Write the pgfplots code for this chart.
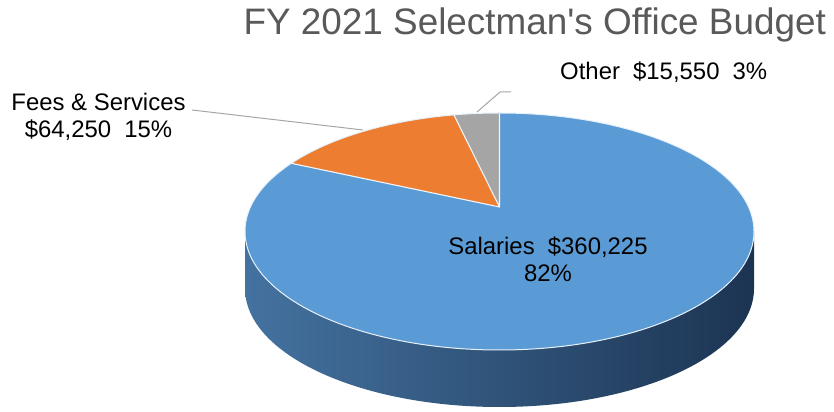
\documentclass[border=0pt]{standalone}
\usepackage{fontspec}
\setmainfont{Liberation Sans}
\usepackage{pgfplots}
\pgfplotsset{compat=1.18}
\usepackage{pgfplotstable}

\definecolor{salblue}{RGB}{91,155,213}
\definecolor{feeorange}{RGB}{237,125,49}
\definecolor{othgray}{RGB}{165,165,165}
\definecolor{sideL}{RGB}{68,114,160}
\definecolor{sideM}{RGB}{45,82,122}
\definecolor{sideR}{RGB}{28,52,82}
\definecolor{leadgray}{RGB}{166,166,166}
\definecolor{titlegray}{RGB}{89,89,89}

% budget items, in dollars
\pgfplotstableread{
item value
Salaries 360225
Fees 64250
Other 15550
}\budget

\pgfplotstablegetelem{0}{value}\of\budget \let\vSal\pgfplotsretval
\pgfplotstablegetelem{1}{value}\of\budget \let\vFee\pgfplotsretval
\pgfplotstablegetelem{2}{value}\of\budget \let\vOth\pgfplotsretval
% pie geometry (axis units = bp)
\def\cx{499.5}\def\cy{180.5}\def\rx{254.5}\def\ry{118.5}\def\dep{57}
\def\persp{0.1046}% perspective shift of the centre
\def\mapang#1{atand(sind(#1)+\persp, cosd(#1)) - atand(-\persp*cosd(#1), 1+\persp*sind(#1))}
\edef\phA{\fpeval{90-360*\vSal/(\vSal+\vFee+\vOth)}}
\edef\phB{\fpeval{90-360*(\vSal+\vFee)/(\vSal+\vFee+\vOth)}}
\edef\psA{\fpeval{round(\mapang{\phA}-360,3)}}
\edef\psB{\fpeval{round(\mapang{\phB}-360,3)}}
\edef\xA{\fpeval{round(\cx+\rx*cosd(\psA),3)}}
\edef\yA{\fpeval{round(\cy+\ry*sind(\psA),3)}}
\edef\xB{\fpeval{round(\cx+\rx*cosd(\psB),3)}}
\edef\yB{\fpeval{round(\cy+\ry*sind(\psB),3)}}
\edef\xT{\cx}\edef\yT{\fpeval{\cy+\ry}}
\edef\xP{\cx}\edef\yP{\fpeval{round(\cy+\ry*2*\persp/(1+\persp*\persp),3)}}
\edef\xL{\fpeval{\cx-\rx}}\edef\xR{\fpeval{\cx+\rx}}
\edef\yBot{\fpeval{\cy-\dep}}

\begin{document}
\begin{tikzpicture}
\begin{axis}[
    width=834bp, height=412bp, scale only axis,
    xmin=0, xmax=834, ymin=0, ymax=412,
    hide axis, clip=false,
]
% side
\shade[left color=sideL, middle color=sideM, right color=sideR]
  (axis cs:\xL,\cy) arc[start angle=180, end angle=360, x radius=\rx bp, y radius=\ry bp]
  -- (axis cs:\xR,\yBot) arc[start angle=0, end angle=-180, x radius=\rx bp, y radius=\ry bp] -- cycle;
% top face
\fill[salblue] (axis cs:\xP,\yP) -- (axis cs:\xT,\yT)
  arc[start angle=90, end angle=\psA, x radius=\rx bp, y radius=\ry bp] -- cycle;
\fill[feeorange] (axis cs:\xP,\yP) -- (axis cs:\xA,\yA)
  arc[start angle=\psA, end angle=\psB, x radius=\rx bp, y radius=\ry bp] -- cycle;
\fill[othgray] (axis cs:\xP,\yP) -- (axis cs:\xB,\yB)
  arc[start angle=\psB, end angle=-270, x radius=\rx bp, y radius=\ry bp] -- cycle;
\draw[white!85!salblue, line width=1bp] (axis cs:\cx,\cy) ellipse[x radius=\rx bp, y radius=\ry bp];
\draw[white!90!salblue, line width=1.1bp] (axis cs:\xT,\yT) -- (axis cs:\xP,\yP) -- (axis cs:\xA,\yA)
  (axis cs:\xP,\yP) -- (axis cs:\xB,\yB);
% leader lines
\draw[leadgray, line width=1bp] (axis cs:192,302) -- (axis cs:363,282);
\draw[leadgray, line width=1bp] (axis cs:511,320) -- (axis cs:500,320) -- (axis cs:477,300);
% labels
\node[align=center, inner sep=0, font=\fontsize{24}{27}\selectfont] at (axis cs:98.5,295.5)
  {Fees \& Services\\\$64,250\hspace{0.55em}15\%};
\node[anchor=west, inner sep=0, font=\fontsize{24}{27}\selectfont] at (axis cs:560,340)
  {Other\hspace{0.55em}\$15,550\hspace{0.55em}3\%};
\node[align=center, inner sep=0, font=\fontsize{24}{27}\selectfont] at (axis cs:548,152.5)
  {Salaries\hspace{0.55em}\$360,225\\82\%};
\node[anchor=east, inner sep=0, text=titlegray, font=\fontsize{37}{44}\selectfont] at (axis cs:826,387)
  {FY 2021 Selectman\textquotesingle s Office Budget};
\end{axis}
\pgfresetboundingbox
\path[use as bounding box] (current axis.south west) rectangle (current axis.north east);
\end{tikzpicture}
\end{document}
